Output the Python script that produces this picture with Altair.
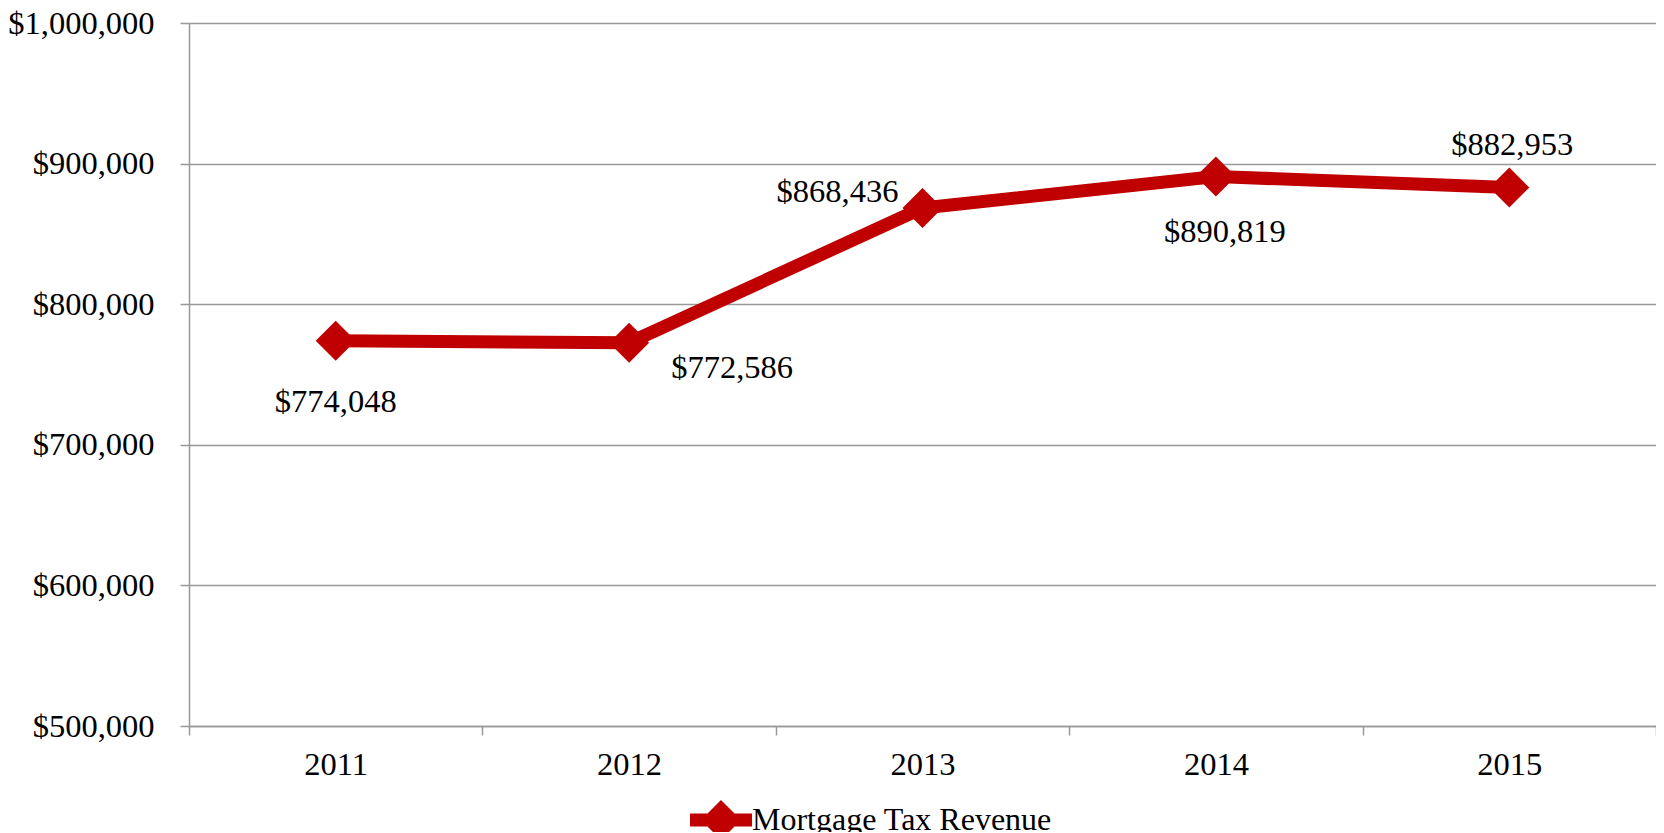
import altair as alt
import pandas as pd

# ---- data ----
years = ["2011", "2012", "2013", "2014", "2015"]
revenue = [774048, 772586, 868436, 890819, 882953]
labels = ["$774,048", "$772,586", "$868,436", "$890,819", "$882,953"]
series_name = "Mortgage Tax Revenue"

# ---- styling (label offsets relative to each point, in px) ----
label_dx = [0, 103, -85, 9, 3]
label_dy = [61, 25, -16, 55, -43]

RED = "#C00000"
GRID = "#999999"
FONT = "Liberation Serif"
FS = 32.5

df = pd.DataFrame({"year": years, "revenue": revenue, "label": labels,
                   "series": [series_name] * len(years)})

x_enc = alt.X("year:N", sort=years,
              scale=alt.Scale(paddingInner=0, paddingOuter=0),
              axis=alt.Axis(title=None, labelAngle=0, tickBand="extent",
                            grid=False, domainColor=GRID, domainWidth=1.5,
                            tickColor=GRID, tickWidth=1.5, tickSize=9,
                            labelPadding=13, labelFont=FONT, labelFontSize=FS,
                            labelColor="black"))
y_enc = alt.Y("revenue:Q",
              scale=alt.Scale(domain=[500000, 1000000], nice=False, zero=False),
              axis=alt.Axis(title=None, values=[500000, 600000, 700000, 800000, 900000, 1000000],
                            format="$,.0f", grid=True, gridColor=GRID, gridWidth=1.5,
                            domainColor=GRID, domainWidth=1.5,
                            tickColor=GRID, tickWidth=1.5, tickSize=9,
                            labelPadding=26, labelFont=FONT, labelFontSize=FS,
                            labelColor="black"))

base = alt.Chart(df)

line = base.mark_line(color=RED, strokeWidth=13, strokeJoin="round").encode(x=x_enc, y=y_enc)

legend_path = ("M-1.55,-0.33 L1.55,-0.33 L1.55,0.33 L-1.55,0.33 Z "
               "M0,-1 L1,0 L0,1 L-1,0 Z")

points = base.mark_point(filled=True, shape="diamond", size=1600, opacity=1,
                         strokeJoin="round").encode(
    x=x_enc, y=y_enc,
    color=alt.Color("series:N",
                    scale=alt.Scale(domain=[series_name], range=[RED]),
                    legend=alt.Legend(title=None, orient="none", legendX=512, legendY=777,
                                      symbolType=legend_path, symbolSize=1600,
                                      symbolStrokeWidth=0, symbolOpacity=1,
                                      labelFont=FONT, labelFontSize=32, labelColor="black",
                                      labelOffset=11, labelLimit=0, padding=0)))

text_layers = []
for i, yr in enumerate(years):
    t = base.transform_filter(alt.datum.year == yr).mark_text(
        font=FONT, fontSize=FS, color="black", align="center", baseline="middle",
        dx=label_dx[i], dy=label_dy[i]).encode(x=x_enc, y=y_enc, text="label:N")
    text_layers.append(t)

chart = alt.layer(line, points, *text_layers).properties(
    width=1467, height=703,
    autosize=alt.AutoSizeParams(type="none"),
    padding={"left": 181, "top": 15, "right": 0, "bottom": 106},
).configure_view(stroke=None)

chart.save("out.html", embed_options={"renderer": "svg", "actions": False})
